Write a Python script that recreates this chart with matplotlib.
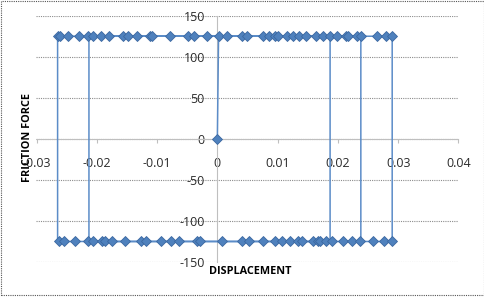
import matplotlib
matplotlib.use("Agg")
import matplotlib.pyplot as plt
from matplotlib.patches import Rectangle
from matplotlib.ticker import FuncFormatter, MultipleLocator

# sticking / sliding friction loop (m, N)
path_disp = [0.0, 0.0002, 0.0187, 0.0187, -0.0265, -0.0265, 0.0290, 0.0290,
             -0.0213, -0.0213, 0.0238, 0.0238]
path_force = [0, 125, 125, -125, -125, 125, 125, -125, -125, 125, 125, -125]

top_disp = [-0.0265, -0.0261, -0.0247, -0.0230, -0.0214, -0.0207, -0.0193,
            -0.0179, -0.0157, -0.0149, -0.0133, -0.0112, -0.0108, -0.0078,
            -0.0048, -0.0038, -0.0017, 0.0002, 0.0016, 0.0041, 0.0050, 0.0076,
            0.0085, 0.0096, 0.0101, 0.0115, 0.0126, 0.0136, 0.0147, 0.0163,
            0.0176, 0.0187, 0.0199, 0.0213, 0.0216, 0.0231, 0.0239, 0.0264,
            0.0280, 0.0290]
bottom_disp = [-0.0263, -0.0254, -0.0236, -0.0215, -0.0206, -0.0192, -0.0186,
               -0.0174, -0.0153, -0.0126, -0.0118, -0.0094, -0.0077, -0.0064,
               -0.0034, -0.0029, 0.0007, 0.0041, 0.0052, 0.0076, 0.0096,
               0.0107, 0.0121, 0.0134, 0.0140, 0.0158, 0.0167, 0.0171, 0.0181,
               0.0190, 0.0209, 0.0224, 0.0236, 0.0258, 0.0277, 0.0289]
slip_force = 125

LINE = "#5B8CC8"
MFACE = "#4F81BD"
MEDGE = "#3A67A0"
GRID = "#8C8C8C"
AXIS = "#BFBFBF"

plt.rcParams["font.family"] = ["Open Sans", "DejaVu Sans"]

fig = plt.figure(figsize=(4.85, 2.97), dpi=100)
ax = fig.add_axes([36.5 / 485, 35 / 297, 422 / 485, 246.3 / 297])

ax.plot(path_disp, path_force, color=LINE, lw=1.1, zorder=3)
marker_kw = dict(ls="none", marker="D", ms=4.6, mfc=MFACE, mec=MEDGE, mew=0.6, zorder=4)
ax.plot(top_disp, [slip_force] * len(top_disp), **marker_kw)
ax.plot(bottom_disp, [-slip_force] * len(bottom_disp), **marker_kw)
ax.plot([0.0], [0.0], **marker_kw)

ax.set_xlim(-0.03, 0.04)
ax.set_ylim(-150, 150)
ax.xaxis.set_major_locator(MultipleLocator(0.01))
ax.yaxis.set_major_locator(MultipleLocator(50))
ax.xaxis.set_major_formatter(FuncFormatter(lambda v, p: f"{round(v, 4):g}"))
ax.yaxis.set_major_formatter(FuncFormatter(lambda v, p: f"{v:g}"))

ax.grid(True, axis="y", color=GRID, lw=0.8, ls=(0, (1, 1)))
ax.set_axisbelow(True)

for side in ["top", "right"]:
    ax.spines[side].set_visible(False)
ax.spines["left"].set_position(("data", 0))
ax.spines["bottom"].set_position(("data", 0))
ax.spines["left"].set_color(AXIS)
ax.spines["bottom"].set_color(AXIS)
ax.spines["bottom"].set_linestyle((0, (1, 1)))

ax.tick_params(axis="x", direction="out", length=3, color=AXIS, pad=10,
               labelsize=9, labelcolor="#2b2b2b")
ax.tick_params(axis="y", direction="out", length=0, pad=9,
               labelsize=9, labelcolor="#2b2b2b")

fig.text(250 / 485, 1 - 271 / 297, "DISPLACEMENT", ha="center", va="center",
         fontsize=7.8, fontweight="bold")
fig.text(28 / 485, 1 - 138 / 297, "FRICTION FORCE", ha="center", va="center",
         rotation=90, fontsize=7.8, fontweight="bold")

fig.patches.append(Rectangle((0.003, 0.006), 0.994, 0.99, transform=fig.transFigure,
                             fill=False, ec="#555555", lw=0.8, ls=(0, (1, 1))))

fig.savefig("out.png", dpi=100)
